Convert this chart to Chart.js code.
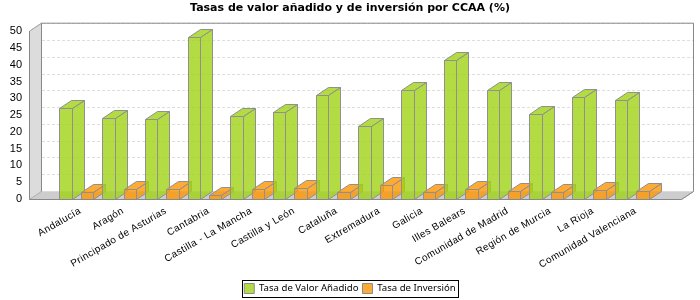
<!DOCTYPE html>
<html><head><meta charset="utf-8">
<style>html,body{margin:0;padding:0;background:#fff}#w{width:700px;height:300px}</style>
<script src="https://cdn.jsdelivr.net/npm/chart.js@4"></script></head>
<body><div id="w"><canvas id="c" width="700" height="300"></canvas></div>
<script>
const categories = ["Andalucía","Aragón","Principado de Asturias","Cantabria","Castilla - La Mancha","Castilla y León","Cataluña","Extremadura","Galicia","Illes Balears","Comunidad de Madrid","Región de Murcia","La Rioja","Comunidad Valenciana"];
const tasaValorAnadido = [27.0,24.0,23.7,48.2,24.6,25.8,31.1,21.9,32.6,41.3,32.6,25.2,30.3,29.4];
const tasaInversion = [2.0,2.9,2.9,1.1,2.9,3.2,2.0,4.1,2.0,2.9,2.3,2.0,2.6,2.3];
const yTicks = [0,5,10,15,20,25,30,35,40,45,50];

const DX = 12, DY = -8, LEFT_GAP = 26, RIGHT_GAP = 28;
const EDGE = '#909090';

function poly(ctx, pts, fill, stroke){
  ctx.beginPath();
  pts.forEach((p,i)=> i ? ctx.lineTo(p[0],p[1]) : ctx.moveTo(p[0],p[1]));
  ctx.closePath();
  if(fill){ctx.fillStyle=fill;ctx.fill();}
  if(stroke){ctx.strokeStyle=stroke;ctx.lineWidth=1;ctx.stroke();}
}
function noPad(s){s.paddingTop=0;s.paddingBottom=0;s.paddingLeft=0;s.paddingRight=0;}

const scene3d = {
  id:'scene3d',
  afterLayout(chart){
    chart.legend.left=0;chart.legend.right=700;
    chart.titleBlock.left=0;chart.titleBlock.right=700;
  },
  beforeDraw(chart){
    const ctx=chart.ctx, a=chart.chartArea, y=chart.scales.y, sx=chart.scales.x;
    if(!sx._spaced){
      const orig=sx.drawLabels.bind(sx);
      sx.drawLabels=function(area){ctx.letterSpacing='0.4px';orig(area);ctx.letterSpacing='0px';};
      sx._spaced=true;
    }
    const L=a.left-LEFT_GAP+.5, R=a.right+RIGHT_GAP+.5, T=y.getPixelForValue(50), B=Math.round(y.getPixelForValue(0))+.5;
    ctx.save();
    poly(ctx,[[L,T],[L+DX,T+DY],[L+DX,B+DY],[L,B]],'#dcdcdc','#a8a8a8');
    poly(ctx,[[L,B],[L+DX,B+DY],[R+DX,B+DY],[R,B]],'#cdcdcd','#b4b4b4');
    poly(ctx,[[L+DX,T+DY],[R+DX,T+DY],[R+DX,B+DY],[L+DX,B+DY]],'#ffffff',null);
    ctx.setLineDash([3,2]);ctx.strokeStyle='#dddddd';ctx.lineWidth=1;
    yTicks.forEach(v=>{
      if(v===0) return;
      const p=Math.round(y.getPixelForValue(v))+.5;
      ctx.beginPath();ctx.moveTo(L,p);ctx.lineTo(L+DX,p+DY);ctx.lineTo(R+DX,p+DY);ctx.stroke();
    });
    ctx.setLineDash([]);
    ctx.strokeStyle='#888888';
    ctx.beginPath();ctx.moveTo(L+DX,B+DY);ctx.lineTo(L+DX,T+DY);ctx.lineTo(R+DX,T+DY);ctx.lineTo(R+DX,B+DY);ctx.lineTo(R,B);ctx.stroke();
    ctx.strokeStyle='#a8a8a8';
    ctx.beginPath();ctx.moveTo(L,T);ctx.lineTo(L+DX,T+DY);ctx.stroke();
    ctx.restore();
  },
  beforeDatasetsDraw(chart){
    const ctx=chart.ctx;
    categories.forEach((_,j)=>{
      [0,1].forEach(i=>{
        const el=chart.getDatasetMeta(i).data[j];
        const {x,y,base,width}=el.getProps(['x','y','base','width'],true);
        const l=Math.round(x-width/2)+.5, r=Math.round(x+width/2)+.5, t=Math.round(y)+.5, b=Math.round(base)+.5;
        const col=el.options.backgroundColor;
        ctx.save();
        poly(ctx,[[r,t],[r+DX,t+DY],[r+DX,b+DY],[r,b]],col,EDGE);
        poly(ctx,[[l,t],[l+DX,t+DY],[r+DX,t+DY],[r,t]],col,EDGE);
        poly(ctx,[[l,t],[r,t],[r,b],[l,b]],col,EDGE);
        ctx.restore();
      });
    });
    return false;
  },
  afterDraw(chart){
    const ctx=chart.ctx,a=chart.chartArea,y=chart.scales.y;
    const L=a.left-LEFT_GAP+.5,R=a.right+RIGHT_GAP+.5,T=y.getPixelForValue(50),B=Math.round(y.getPixelForValue(0))+.5;
    ctx.save();
    ctx.strokeStyle='#888888';ctx.lineWidth=1;
    ctx.beginPath();ctx.moveTo(L,T);ctx.lineTo(L,B);ctx.lineTo(R,B);ctx.stroke();
    ctx.strokeStyle='#000';ctx.strokeRect(242.5,280.5,216,17);
    ctx.restore();
  }
};

new Chart(document.getElementById('c'),{
  type:'bar',
  data:{labels:categories,datasets:[
    {label:'Tasa de Valor Añadido',data:tasaValorAnadido,backgroundColor:'rgba(160,210,20,0.8)',borderColor:'#8c8c8c',borderWidth:1,categoryPercentage:1,barPercentage:0.58},
    {label:'Tasa de Inversión',data:tasaInversion,backgroundColor:'rgba(254,150,4,0.8)',borderColor:'#8c8c8c',borderWidth:1,categoryPercentage:1,barPercentage:0.58}
  ]},
  plugins:[scene3d],
  options:{
    responsive:false,animation:false,devicePixelRatio:1,
    layout:{autoPadding:false,padding:{left:0,right:47,top:0,bottom:-3.5}},
    plugins:{
      tooltip:{enabled:false},
      title:{display:true,text:'Tasas de valor añadido y de inversión por CCAA (%)',color:'#000',font:{family:'"DejaVu Sans"',size:11,weight:'bold'},padding:{top:2,bottom:16}},
      legend:{position:'bottom',labels:{boxWidth:10,boxHeight:10,padding:4,color:'#000',font:{family:'"Noto Sans"',size:9.6}}}
    },
    scales:{
      x:{offset:true,grid:{display:false},border:{display:false},
        afterFit(s){s.height=80.5;noPad(s);},
        ticks:{autoSkip:false,minRotation:30,maxRotation:30,padding:-2,labelOffset:4,color:'#000',font:{family:'"Liberation Sans"',size:10}}},
      y:{min:0,max:50,grid:{display:false,drawTicks:false},border:{display:false},
        afterFit(s){s.width=55;noPad(s);},
        afterBuildTicks(s){s.ticks=yTicks.map(v=>({value:v}));},
        ticks:{padding:33,color:'#000',font:{family:'"Liberation Sans"',size:11}}}
    }
  }
});
</script></body></html>
